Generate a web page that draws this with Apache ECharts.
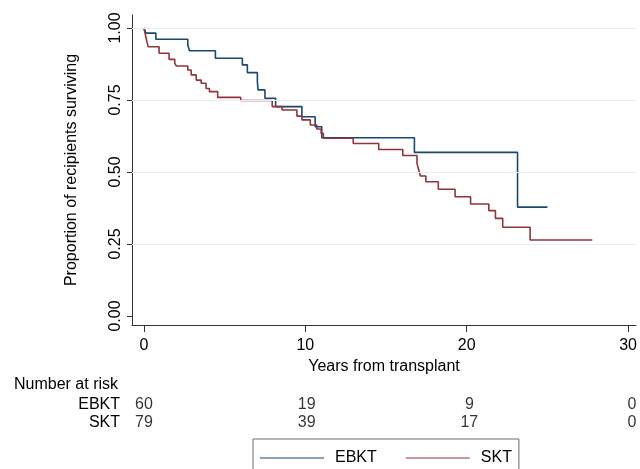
<!DOCTYPE html>
<html>
<head>
<meta charset="utf-8">
<script src="https://cdn.jsdelivr.net/npm/echarts@6/dist/echarts.min.js"></script>
<style>html,body{margin:0;padding:0;background:#fff}#c{width:640px;height:469px}</style>
</head>
<body>
<div id="c"></div>
<script>
// EBKT Kaplan-Meier (years, survival)
var ebktTime = [0, 0.12, 0.74, 2.72, 2.83, 4.43, 6.10, 6.41, 7.03, 7.07, 7.50, 8.16, 9.79, 10.61, 11.02, 16.76, 23.15, 25.0];
var ebktSurv = [1, 0.982, 0.961, 0.940, 0.921, 0.895, 0.872, 0.845, 0.814, 0.785, 0.756, 0.727, 0.692, 0.657, 0.619, 0.568, 0.378, 0.378];
// SKT Kaplan-Meier
var sktTime = [0, 0.05, 0.10, 0.15, 0.20, 0.26, 0.94, 1.56, 1.91, 2.01, 2.72, 2.93, 3.24, 3.55, 3.85, 4.06, 4.57, 6.00, 7.95, 8.56, 9.48, 9.79, 10.31, 10.71, 10.98, 11.12, 12.97, 14.55, 16.04, 16.92, 17.03, 17.13, 17.47, 18.24, 19.28, 20.24, 21.37, 21.78, 22.23, 23.93, 27.78];
var sktSurv = [1, 0.987, 0.975, 0.962, 0.949, 0.935, 0.912, 0.891, 0.877, 0.868, 0.854, 0.837, 0.819, 0.808, 0.790, 0.779, 0.759, 0.748, 0.727, 0.715, 0.694, 0.681, 0.663, 0.649, 0.634, 0.617, 0.599, 0.578, 0.557, 0.530, 0.507, 0.486, 0.466, 0.440, 0.414, 0.389, 0.366, 0.339, 0.308, 0.264, 0.264];
// Number at risk
var riskGroups = ['EBKT', 'SKT'];
var riskTimes = [0, 10, 20, 30];
var riskEBKT = [60, 19, 9, 0];
var riskSKT = [79, 39, 17, 0];
var xTicks = [0, 10, 20, 30];
var yTicks = [0, 0.25, 0.5, 0.75, 1];
var gridVals = [0.25, 0.5, 0.75, 1];

var FONT = '"Liberation Sans", Arial, sans-serif';
var BLUE = '#1a476f', RED = '#90353b';

function zip(a, b) { return a.map(function (v, i) { return [v, b[i]]; }); }
var riskData = [];
riskTimes.forEach(function (t, i) { riskData.push([t, 'EBKT', riskEBKT[i]]); });
riskTimes.forEach(function (t, i) { riskData.push([t, 'SKT', riskSKT[i]]); });

var chart = echarts.init(document.getElementById('c'), null, {renderer: 'canvas'});
chart.setOption({
  animation: false,
  backgroundColor: '#fff',
  textStyle: {fontFamily: FONT},
  title: {
    text: 'Number at risk', left: 9, top: 372,
    textStyle: {fontFamily: FONT, fontSize: 16, fontWeight: 'normal', color: '#000'}
  },
  legend: {
    data: [{name: 'EBKT', icon: 'rect'}, {name: 'SKT', icon: 'rect'}],
    left: 253, top: 439,
    itemWidth: 64, itemHeight: 1.2, itemGap: 29,
    padding: [11, 7, 30, 7],
    borderColor: '#6e6e6e', borderWidth: 1,
    backgroundColor: '#fff',
    textStyle: {fontFamily: FONT, fontSize: 16, color: '#000', padding: [0, 0, 0, 6]}
  },
  grid: [
    {left: 132, right: 0, top: 15, bottom: 144},
    {left: 132, right: 0, top: 396, height: 36}
  ],
  xAxis: [{
    type: 'value', min: -0.7376, max: 30.49,
    name: 'Years from transplant', nameLocation: 'middle', nameGap: 30,
    nameTextStyle: {fontFamily: FONT, fontSize: 16, color: '#000'},
    axisLine: {show: true, onZero: false, lineStyle: {color: '#333', width: 1}},
    axisTick: {show: true, length: 7, customValues: xTicks, lineStyle: {color: '#333'}},
    axisLabel: {customValues: xTicks, fontFamily: FONT, fontSize: 16, color: '#000', margin: 13},
    splitLine: {show: false}
  }, {
    type: 'value', gridIndex: 1, min: -0.7376, max: 30.49, show: false
  }],
  yAxis: [{
    type: 'value', min: -0.03125, max: 1.045,
    name: 'Proportion of recipients surviving', nameLocation: 'middle', nameGap: 52,
    nameTextStyle: {fontFamily: FONT, fontSize: 16, color: '#000'},
    axisLine: {show: true, onZero: false, lineStyle: {color: '#333', width: 1}},
    axisTick: {show: true, length: 5, customValues: yTicks, lineStyle: {color: '#333'}},
    axisLabel: {customValues: yTicks, rotate: 90, fontFamily: FONT, fontSize: 16, color: '#000', margin: 8,
      formatter: function (v) { return v.toFixed(2); }},
    splitLine: {show: false}
  }, {
    type: 'category', gridIndex: 1, inverse: true, data: riskGroups,
    axisLine: {show: false}, axisTick: {show: false},
    axisLabel: {interval: 0, fontFamily: FONT, fontSize: 16, color: '#000', margin: 12}
  }],
  series: [{
    name: 'EBKT', type: 'line', step: 'end', symbol: 'none',
    data: zip(ebktTime, ebktSurv),
    lineStyle: {color: BLUE, width: 1.6}, itemStyle: {color: BLUE},
    z: 3,
    markLine: {
      silent: true, symbol: ['none', 'none'], label: {show: false},
      lineStyle: {color: '#e6eef1', type: 'solid', width: 1},
      data: gridVals.map(function (v) { return {yAxis: v}; })
    }
  }, {
    name: 'SKT', type: 'line', step: 'end', symbol: 'none',
    data: zip(sktTime, sktSurv),
    lineStyle: {color: RED, width: 1.6}, itemStyle: {color: RED},
    z: 3
  }, {
    type: 'scatter', xAxisIndex: 1, yAxisIndex: 1,
    data: riskData, symbolSize: 1, itemStyle: {color: 'rgba(0,0,0,0)'},
    label: {show: true, position: 'inside', fontFamily: FONT, fontSize: 16, color: '#000',
      formatter: function (p) { return String(p.value[2]); }},
    silent: true
  }]
});
</script>
</body>
</html>
